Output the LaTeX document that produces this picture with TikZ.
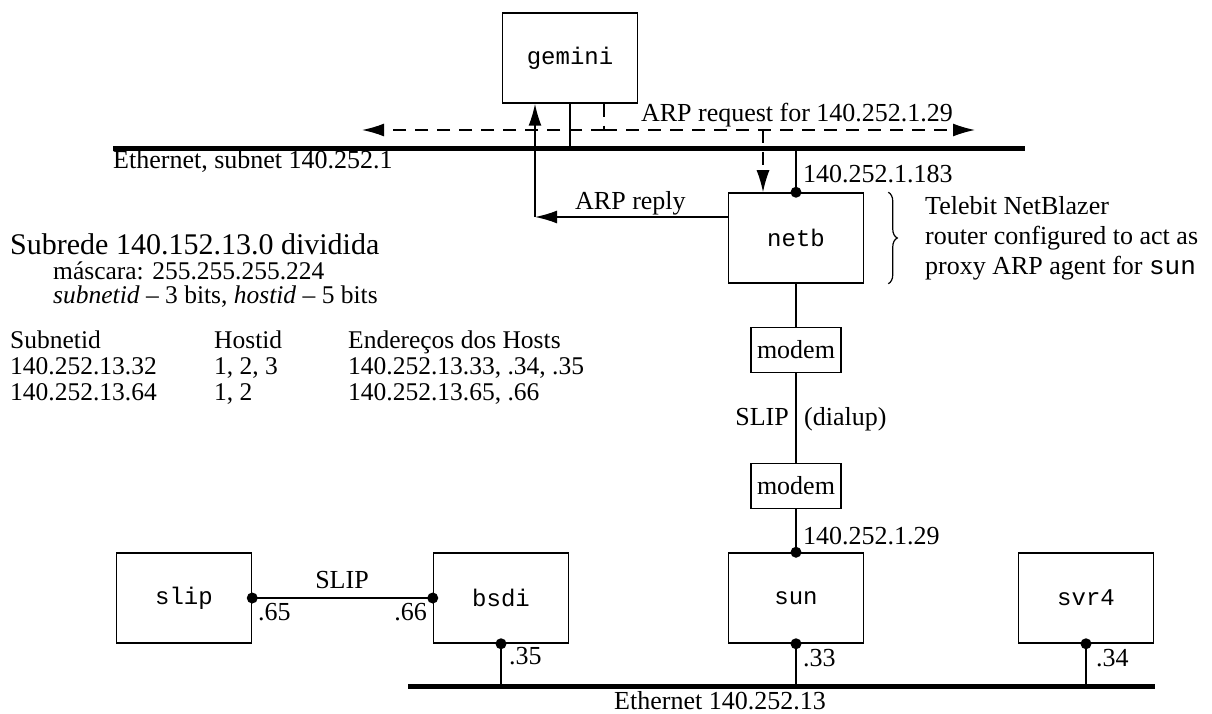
\documentclass[tikz,border=0pt]{standalone}
\usepackage{fontspec}
\setmainfont{Liberation Serif}
\setmonofont{Liberation Mono}
\usetikzlibrary{arrows.meta, positioning, decorations.pathreplacing}

\newcommand{\headlbl}{\fontsize{30}{34}\selectfont}
\newcommand{\notelbl}{\fontsize{25.5}{26}\selectfont}
\newcommand{\diaglbl}{\fontsize{26}{30}\selectfont}
\newcommand{\hostlbl}{\fontsize{24}{26}\selectfont\ttfamily}

\begin{document}
\begin{tikzpicture}[x=1pt, y=-1pt,
            host/.style={draw, line width=1.5pt, minimum width=135pt, minimum height=90pt, inner sep=0pt, font=\hostlbl},
            modembox/.style={draw, line width=1.5pt, minimum width=90pt, minimum height=45pt, inner sep=0pt, font=\diaglbl},
            tap/.style={circle, fill, inner sep=0pt, minimum size=11pt},
            wire/.style={line width=1.5pt},
            ether/.style={line width=5pt},
            req/.style={line width=1.5pt, dash pattern=on 13pt off 9pt},
            lbl/.style={font=\diaglbl, inner sep=0pt},
            note/.style={font=\notelbl, inner sep=0pt, anchor=base west},
            arr/.style={-{Latex[length=22pt,width=13pt]}}
        ]
            \useasboundingbox (0,0) rectangle (1212,714);

            % Hosts
            \node[host] (gemini) at (570,58) {gemini};
            \node[host] (netb) at (796,238) {netb};
            \node[modembox] (modemA) at (796,350) {modem};
            \node[modembox] (modemB) at (796,486) {modem};
            \node[host] (slip) at (184,598) {slip};
            \node[host] (bsdi) at (501,598) {bsdi};
            \node[host] (sun) at (796,598) {sun};
            \node[host] (svr4) at (1086,598) {svr4};

            % Ethernets
            \coordinate (topL) at (113,149);
            \coordinate (topR) at (1025,149);
            \coordinate (botL) at (408,686);
            \coordinate (botR) at (1155,686);
            \draw[ether] (topL) -- (topR);
            \draw[ether] (botL) -- (botR);

            % Interfaces
            \node[tap] (netbTap) at (netb.north) {};
            \node[tap] (sunTop) at (sun.north) {};
            \node[tap] (sunBot) at (sun.south) {};
            \node[tap] (bsdiBot) at (bsdi.south) {};
            \node[tap] (svrBot) at (svr4.south) {};
            \node[tap] (slipEnd) at (slip.east) {};
            \node[tap] (bsdiEnd) at (bsdi.west) {};

            % Links
            \draw[wire] (gemini.south) -- (gemini.south |- topL);
            \draw[wire] (netbTap.center) -- (netbTap.center |- topL);
            \draw[wire] (netb) -- (modemA);
            \draw[wire] (modemA) -- (modemB);
            \draw[wire] (modemB) -- (sunTop.center);
            \draw[wire] (slipEnd.center) -- (bsdiEnd.center);
            \draw[wire] (bsdiBot.center) -- (bsdiBot.center |- botL);
            \draw[wire] (sunBot.center) -- (sunBot.center |- botL);
            \draw[wire] (svrBot.center) -- (svrBot.center |- botL);

            % ARP request (broadcast)
            \coordinate (reqSrc) at ([xshift=34pt]gemini.south);
            \coordinate (reqL) at (362,130);
            \coordinate (reqR) at (975,130);
            \coordinate (reqDrop) at (763,130);
            \draw[req] (reqSrc) -- (reqSrc |- reqL);
            \draw[req, arr] (reqSrc |- reqL) -- (reqL);
            \draw[req, arr] (reqSrc |- reqL) -- (reqR);
            \draw[req, arr] (reqDrop) -- (reqDrop |- netb.north);

            % ARP reply
            \coordinate (replyCorner) at (535,217);
            \draw[wire, arr] (netb.west |- replyCorner) -- (replyCorner);
            \draw[wire, arr] (replyCorner) -- (replyCorner |- gemini.south);

            % Proxy note
            \draw[line width=1.2pt, decorate, decoration={brace, amplitude=9pt}] ([xshift=24pt]netb.north east) -- ([xshift=24pt]netb.south east);
            \node[lbl, anchor=west, align=left] (netbNote) at (925,238) {Telebit NetBlazer\\router configured to act as\\proxy ARP agent for \texttt{sun}};

            % Labels
            \node[lbl, anchor=base west] (topLbl) at (113,169) {Ethernet, subnet 140.252.1};
            \node[lbl, anchor=base] (reqLbl) at (797,122) {ARP request for 140.252.1.29};
            \node[lbl, anchor=base west] (replyLbl) at (575,209) {ARP reply};
            \node[lbl, anchor=base west] (netbAddr) at (803,183) {140.252.1.183};
            \node[lbl, anchor=base east] (dialA) at (789,425) {SLIP};
            \node[lbl, anchor=base west] (dialB) at (804,425) {(dialup)};
            \node[lbl, anchor=base west] (sunAddr) at (803,544) {140.252.1.29};
            \node[lbl, anchor=base] (slipLbl) at (342,588) {SLIP};
            \node[lbl, anchor=base west] (slipAddr) at (258,620) {.65};
            \node[lbl, anchor=base east] (bsdiAddrA) at (427,620) {.66};
            \node[lbl, anchor=base west] (bsdiAddrB) at (509,664) {.35};
            \node[lbl, anchor=base west] (sunAddrB) at (803,666) {.33};
            \node[lbl, anchor=base west] (svrAddr) at (1096,666) {.34};
            \node[lbl, anchor=base] (botLbl) at (720,709) {Ethernet 140.252.13};

            % Subnet notes
            \node[note, font=\headlbl] (subTitle) at (10,254) {Subrede 140.152.13.0 dividida};
            \node[note] (subMask) at (53,279) {máscara: 255.255.255.224};
            \node[note] (subBits) at (53,303) {\textit{subnetid} -- 3 bits, \textit{hostid} -- 5 bits};
            \node[note] (colNet) at (10,348) {Subnetid};
            \node[note] (colHost) at (214,348) {Hostid};
            \node[note] (colAddr) at (348,348) {Endereços dos Hosts};
            \node[note] (netA) at (10,374) {140.252.13.32};
            \node[note] (hostA) at (214,374) {1, 2, 3};
            \node[note] (addrA) at (348,374) {140.252.13.33, .34, .35};
            \node[note] (netB) at (10,400) {140.252.13.64};
            \node[note] (hostB) at (214,400) {1, 2};
            \node[note] (addrB) at (348,400) {140.252.13.65, .66};

        \end{tikzpicture}
\end{document}
